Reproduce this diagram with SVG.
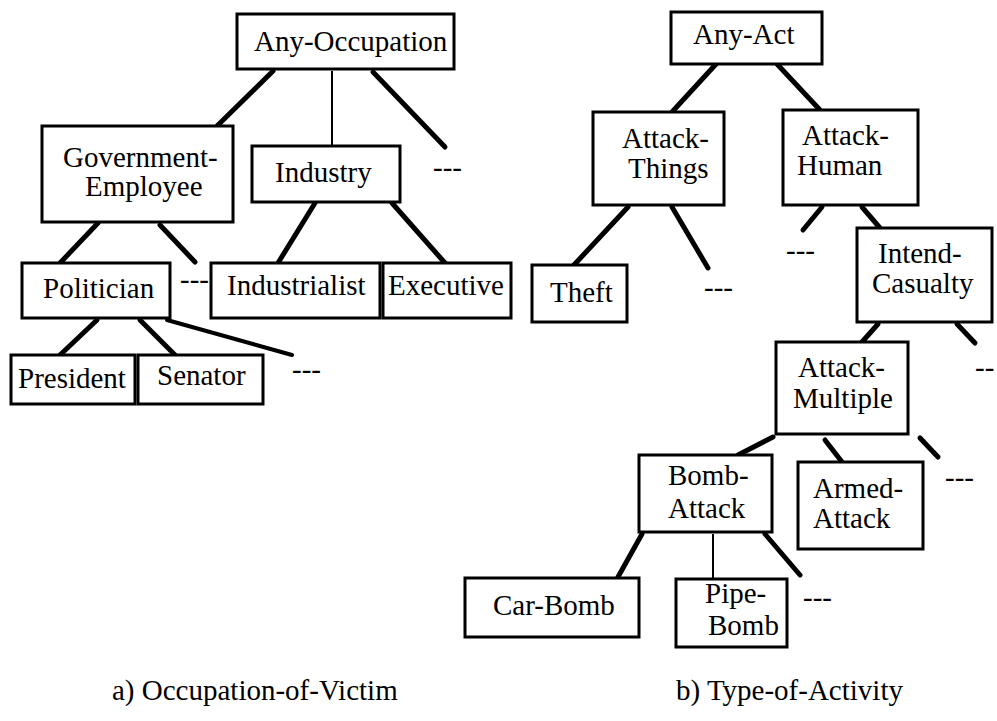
<svg xmlns="http://www.w3.org/2000/svg" width="997" height="721" viewBox="0 0 997 721">
<style>
.box{fill:#fff;stroke:#000;stroke-width:3}
.t{font-family:"Liberation Serif","Times New Roman",serif;font-size:29px;fill:#000}
.e{stroke:#000;stroke-width:5;stroke-linecap:round;fill:none}
.thin{stroke:#000;stroke-width:2;fill:none}
</style>
<rect width="997" height="721" fill="#fff"/>
<g id="connectors">
<line class="e" x1="273" y1="71" x2="217" y2="126"/>
<line class="thin" x1="332" y1="71" x2="332" y2="146"/>
<line class="e" x1="373" y1="72" x2="445" y2="147"/>
<line class="e" x1="98" y1="223" x2="60" y2="263"/>
<line class="e" x1="160" y1="225" x2="195" y2="262"/>
<line class="e" x1="315" y1="203" x2="278" y2="263"/>
<line class="e" x1="392" y1="203" x2="445" y2="263"/>
<line class="e" x1="97" y1="320" x2="60" y2="355"/>
<line class="e" x1="140" y1="320" x2="175" y2="355"/>
<line class="e" style="stroke-width:4" x1="167" y1="320" x2="292" y2="355"/>
<line class="e" x1="717" y1="63" x2="672" y2="112"/>
<line class="e" x1="777" y1="64" x2="820" y2="110"/>
<line class="e" x1="628" y1="207" x2="573" y2="266"/>
<line class="e" x1="672" y1="207" x2="708" y2="268"/>
<line class="e" x1="822" y1="207" x2="803" y2="230"/>
<line class="e" x1="862" y1="207" x2="880" y2="228"/>
<line class="e" x1="878" y1="324" x2="862" y2="342"/>
<line class="e" x1="957" y1="324" x2="975" y2="343"/>
<line class="e" x1="773" y1="437" x2="738" y2="455"/>
<line class="e" x1="825" y1="440" x2="842" y2="462"/>
<line class="e" x1="920" y1="438" x2="938" y2="457"/>
<line class="e" x1="642" y1="534" x2="618" y2="577"/>
<line class="thin" x1="713" y1="534" x2="713" y2="579"/>
<line class="e" x1="765" y1="534" x2="800" y2="575"/>
</g>
<g id="any-occupation"><rect class="box" x="237" y="14" width="217" height="55"/><text class="t" x="254" y="51">Any-Occupation</text></g>
<g id="government-employee"><rect class="box" x="42" y="126" width="191" height="96"/><text class="t" x="63" y="167">Government-<tspan x="85" dy="29">Employee</tspan></text></g>
<g id="industry"><rect class="box" x="252" y="146" width="148" height="56"/><text class="t" x="275" y="182">Industry</text></g>
<text class="t" x="433" y="177">---</text>
<g id="politician"><rect class="box" x="22" y="263" width="148" height="55"/><text class="t" x="43" y="298">Politician</text></g>
<text class="t" x="180" y="289">---</text>
<g id="industrialist"><rect class="box" x="211" y="263" width="169" height="55"/><text class="t" x="227" y="295">Industrialist</text></g>
<g id="executive"><rect class="box" x="383" y="263" width="128" height="55"/><text class="t" x="388" y="295">Executive</text></g>
<g id="president"><rect class="box" x="11" y="355" width="124" height="49"/><text class="t" x="18" y="388">President</text></g>
<g id="senator"><rect class="box" x="138" y="355" width="125" height="49"/><text class="t" x="157" y="385">Senator</text></g>
<text class="t" x="292" y="379">---</text>
<g id="any-act"><rect class="box" x="671" y="12" width="151" height="52"/><text class="t" x="693" y="44">Any-Act</text></g>
<g id="attack-things"><rect class="box" x="593" y="112" width="131" height="93"/><text class="t" x="622" y="148">Attack-<tspan x="628" dy="30">Things</tspan></text></g>
<g id="attack-human"><rect class="box" x="783" y="110" width="135" height="95"/><text class="t" x="802" y="145">Attack-<tspan x="797" dy="30">Human</tspan></text></g>
<g id="theft"><rect class="box" x="532" y="265" width="95" height="57"/><text class="t" x="550" y="302">Theft</text></g>
<text class="t" x="704" y="297">---</text>
<text class="t" x="786" y="260">---</text>
<g id="intend-casualty"><rect class="box" x="857" y="228" width="135" height="94"/><text class="t" x="878" y="263">Intend-<tspan x="872" dy="30">Casualty</tspan></text></g>
<text class="t" x="975" y="377">--</text>
<g id="attack-multiple"><rect class="box" x="776" y="342" width="132" height="92"/><text class="t" x="798" y="377">Attack-<tspan x="793" dy="31">Multiple</tspan></text></g>
<g id="bomb-attack"><rect class="box" x="639" y="455" width="133" height="77"/><text class="t" x="668" y="485">Bomb-<tspan x="668" dy="33">Attack</tspan></text></g>
<g id="armed-attack"><rect class="box" x="798" y="462" width="125" height="87"/><text class="t" x="813" y="498">Armed-<tspan x="813" dy="30">Attack</tspan></text></g>
<text class="t" x="945" y="487">---</text>
<g id="car-bomb"><rect class="box" x="465" y="578" width="174" height="59"/><text class="t" x="493" y="615">Car-Bomb</text></g>
<g id="pipe-bomb"><rect class="box" x="676" y="579" width="111" height="68"/><text class="t" x="705" y="603">Pipe-<tspan x="708" dy="32">Bomb</tspan></text></g>
<text class="t" x="803" y="607">---</text>
<text class="t" x="112" y="700">a) Occupation-of-Victim</text>
<text class="t" x="676" y="700">b) Type-of-Activity</text>
</svg>
